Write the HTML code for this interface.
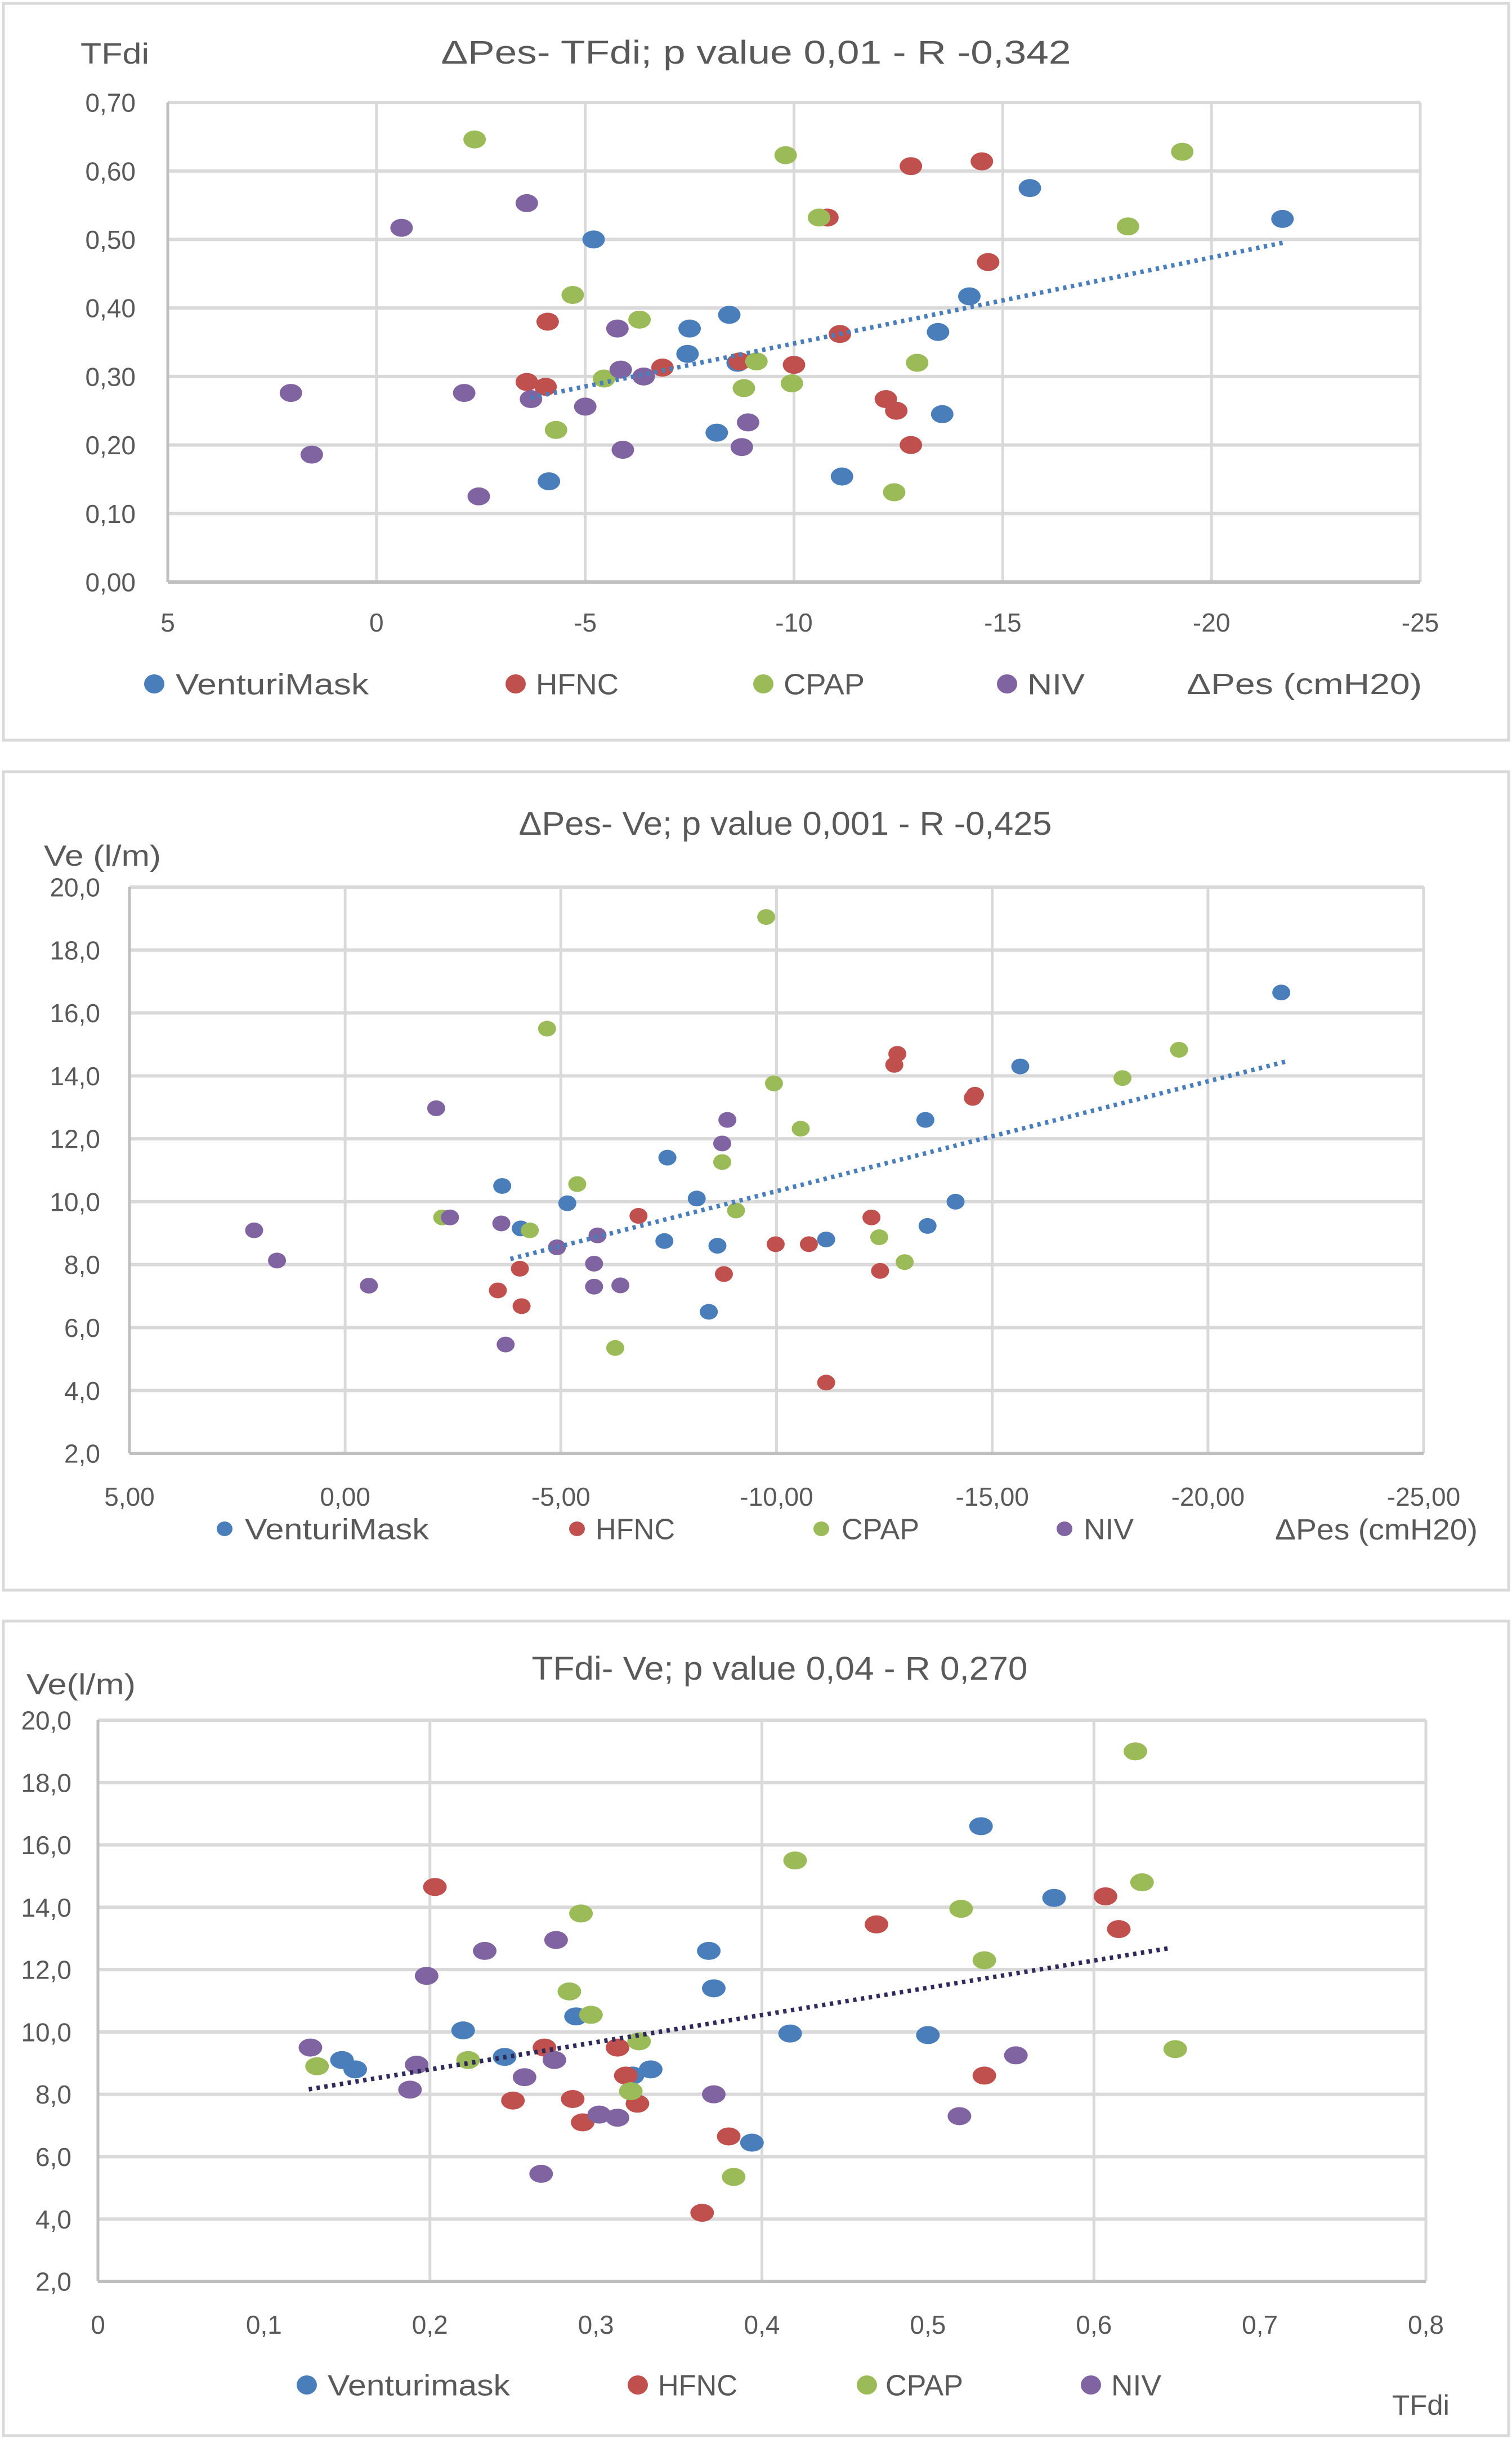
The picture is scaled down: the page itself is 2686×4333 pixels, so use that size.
<!DOCTYPE html>
<html>
<head>
<meta charset="utf-8">
<style>
html,body{margin:0;padding:0;background:#fff;}
svg{display:block;}
text{font-family:"Liberation Sans",sans-serif;fill:#595959;}
</style>
</head>
<body>
<svg id="root" xmlns="http://www.w3.org/2000/svg" width="2686" height="4333" viewBox="0 0 2686 4333"></svg>
<script>
// ---------- Chart 1: ΔPes vs TFdi ----------
const c1_venturi_x = [-21.7,-15.65,-5.2,-14.2,-8.45,-7.5,-7.45,-13.45,-8.65,-8.15,-13.55,-11.15,-4.13];
const c1_venturi_y = [0.53,0.575,0.50,0.417,0.39,0.37,0.333,0.365,0.32,0.218,0.245,0.154,0.147];
const c1_hfnc_x = [-12.8,-14.5,-14.65,-10.8,-4.1,-11.1,-3.6,-4.05,-6.85,-10.0,-8.7,-12.2,-12.45,-12.8];
const c1_hfnc_y = [0.607,0.614,0.467,0.532,0.38,0.362,0.292,0.285,0.313,0.317,0.322,0.267,0.25,0.20];
const c1_cpap_x = [-2.35,-9.8,-19.3,-10.6,-18.0,-4.7,-6.3,-9.1,-12.95,-5.45,-8.8,-9.95,-4.3,-12.4];
const c1_cpap_y = [0.646,0.623,0.628,0.532,0.519,0.419,0.383,0.322,0.32,0.297,0.283,0.29,0.222,0.131];
const c1_niv_x = [-0.6,-3.6,2.05,1.55,-2.1,-3.7,-5.77,-5.85,-6.4,-5.0,-5.9,-2.45,-8.9,-8.75];
const c1_niv_y = [0.517,0.553,0.276,0.186,0.276,0.267,0.37,0.31,0.30,0.256,0.193,0.125,0.233,0.197];
const c1_trend_x = [-3.69,-21.77];
const c1_trend_y = [0.269,0.496];
const c1_xticks = [5,0,-5,-10,-15,-20,-25];
const c1_xtickLabels = ["5","0","-5","-10","-15","-20","-25"];
const c1_xgrid = [5,0,-5,-10,-15,-20,-25];
const c1_yticks = [0,0.1,0.2,0.3,0.4,0.5,0.6,0.7];
const c1_ytickLabels = ["0,00","0,10","0,20","0,30","0,40","0,50","0,60","0,70"];

// ---------- Chart 2: ΔPes vs Ve ----------
const c2_venturi_x = [-21.7,-15.65,-13.45,-14.15,-13.5,-11.15,-8.63,-8.43,-8.15,-7.47,-7.4,-5.15,-4.07,-3.64];
const c2_venturi_y = [16.65,14.3,12.6,10.0,9.23,8.8,8.6,6.5,10.1,11.4,8.75,9.95,9.15,10.5];
const c2_hfnc_x = [-12.8,-12.73,-14.6,-14.55,-12.2,-12.4,-10.75,-9.98,-6.8,-8.78,-11.15,-4.05,-3.54,-4.09];
const c2_hfnc_y = [14.7,14.35,13.4,13.3,9.5,7.8,8.65,8.65,9.55,7.7,4.25,7.87,7.18,6.68];
const c2_cpap_x = [-9.76,-4.68,-19.33,-18.02,-9.94,-10.56,-8.74,-5.38,-9.06,-2.25,-4.28,-12.38,-12.97,-6.26];
const c2_cpap_y = [19.05,15.5,14.83,13.93,13.76,12.32,11.26,10.56,9.72,9.5,9.09,8.87,8.08,5.35];
const c2_niv_x = [-2.11,-2.43,2.11,1.58,-0.55,-3.62,-5.85,-4.91,-5.77,-5.77,-6.38,-3.72,-8.86,-8.74];
const c2_niv_y = [12.97,9.5,9.09,8.13,7.33,9.31,8.93,8.55,8.03,7.3,7.34,5.46,12.6,11.85];
const c2_trend_x = [-3.83,-21.79];
const c2_trend_y = [8.18,14.45];
const c2_xticks = [5,0,-5,-10,-15,-20,-25];
const c2_xtickLabels = ["5,00","0,00","-5,00","-10,00","-15,00","-20,00","-25,00"];
const c2_xgrid = [5,0,-5,-10,-15,-20,-25];
const c2_yticks = [2,4,6,8,10,12,14,16,18,20];
const c2_ytickLabels = ["2,0","4,0","6,0","8,0","10,0","12,0","14,0","16,0","18,0","20,0"];

// ---------- Chart 3: TFdi vs Ve ----------
const c3_venturi_x = [0.532,0.576,0.368,0.371,0.417,0.50,0.288,0.22,0.245,0.147,0.155,0.333,0.322,0.394];
const c3_venturi_y = [16.6,14.3,12.6,11.4,9.95,9.9,10.5,10.05,9.2,9.1,8.8,8.8,8.6,6.45];
const c3_hfnc_x = [0.203,0.469,0.607,0.615,0.269,0.313,0.318,0.534,0.325,0.286,0.25,0.292,0.38,0.364];
const c3_hfnc_y = [14.65,13.45,14.35,13.3,9.5,9.5,8.6,8.6,7.7,7.85,7.8,7.1,6.65,4.2];
const c3_cpap_x = [0.625,0.42,0.629,0.52,0.534,0.291,0.284,0.297,0.326,0.223,0.132,0.321,0.649,0.383];
const c3_cpap_y = [19.0,15.5,14.8,13.95,12.3,13.8,11.3,10.55,9.7,9.1,8.9,8.1,9.45,5.35];
const c3_niv_x = [0.276,0.233,0.198,0.128,0.192,0.275,0.257,0.188,0.371,0.302,0.313,0.553,0.519,0.267];
const c3_niv_y = [12.95,12.6,11.8,9.5,8.95,9.1,8.55,8.15,8.0,7.35,7.25,9.25,7.3,5.45];
const c3_trend_x = [0.127,0.647];
const c3_trend_y = [8.16,12.7];
const c3_xticks = [0,0.1,0.2,0.3,0.4,0.5,0.6,0.7,0.8];
const c3_xtickLabels = ["0","0,1","0,2","0,3","0,4","0,5","0,6","0,7","0,8"];
const c3_xgrid = [0,0.2,0.4,0.6,0.8];
const c3_yticks = [2,4,6,8,10,12,14,16,18,20];
const c3_ytickLabels = ["2,0","4,0","6,0","8,0","10,0","12,0","14,0","16,0","18,0","20,0"];

const NS = "http://www.w3.org/2000/svg";
const root = document.getElementById('root');
const COL = {venturi:"#4a7ebb", hfnc:"#c0504d", cpap:"#9bbb59", niv:"#8064a2"};

function mk(tag, attrs, parent){
  const e = document.createElementNS(NS, tag);
  for (const k in attrs) e.setAttribute(k, attrs[k]);
  (parent||root).appendChild(e);
  return e;
}
function linScale(d0,d1,r0,r1){ return v => r0 + (v-d0)/(d1-d0)*(r1-r0); }
function fit(t, len){ t.setAttribute('textLength', len); t.setAttribute('lengthAdjust', 'spacingAndGlyphs'); }

function drawChart(cfg){
  const g = mk('g', {});
  
  
  const box = mk('rect', {x:cfg.box[0], y:cfg.box[1], width:cfg.box[2], height:cfg.box[3], fill:'#fff', stroke:'#d9d9d9', 'stroke-width':5}, g);
  
  
  const sx = linScale(cfg.xd[0], cfg.xd[1], cfg.px[0], cfg.px[1]);
  const sy = linScale(cfg.yd[0], cfg.yd[1], cfg.py[0], cfg.py[1]);
  cfg.xgrid.forEach(t=>{
    const l = mk('line', {x1:sx(t), x2:sx(t), y1:cfg.py[1], y2:cfg.py[0], stroke:'#d9d9d9', 'stroke-width':5}, g);
    
    
  });
  cfg.xticks.forEach((t,i)=>{
    const tx = mk('text', {x:sx(t), y:cfg.xtickY, 'font-size':cfg.tickFont, 'text-anchor':'middle'}, g);
    tx.textContent = cfg.xtickLabels[i];
    
    
  });
  cfg.yticks.forEach((t,i)=>{
    const l = mk('line', {x1:cfg.px[0], x2:cfg.px[1], y1:sy(t), y2:sy(t), stroke:'#d9d9d9', 'stroke-width':6}, g);
    
    
    const tx = mk('text', {x:cfg.ytickX, y:sy(t)+cfg.tickFont*0.36, 'font-size':cfg.tickFont, 'text-anchor':'end'}, g);
    tx.textContent = cfg.ytickLabels[i];
    
    
  });
  const ax = mk('line', {x1:cfg.px[0], x2:cfg.px[1], y1:cfg.py[0], y2:cfg.py[0], stroke:'#bfbfbf', 'stroke-width':6}, g);
  
  
  const ay = mk('line', {x1:cfg.axisX, x2:cfg.axisX, y1:cfg.py[0], y2:cfg.py[1], stroke:'#bfbfbf', 'stroke-width':5}, g);
  
  
  cfg.series.forEach(s=>{
    const sg = mk('g', {}, g);
    
    
    s.x.forEach((xv,i)=>{
      const e = mk('ellipse', {cx:sx(xv), cy:sy(s.y[i]), rx:cfg.mrx, ry:cfg.mry, fill:COL[s.key]}, sg);
      
      
    });
  });
  const tl = mk('line', {x1:sx(cfg.trendX[0]), y1:sy(cfg.trendY[0]), x2:sx(cfg.trendX[1]), y2:sy(cfg.trendY[1]),
    stroke:cfg.trendColor, 'stroke-width':8, 'stroke-dasharray':'6 8'}, g);
  
  
  const ti = mk('text', {x:cfg.title[1], y:cfg.title[2], 'font-size':58, 'text-anchor':'middle'}, g);
  ti.textContent = cfg.title[0];
  fit(ti, cfg.title[3]);
  
  
  const yt = mk('text', {x:cfg.yTitle[1], y:cfg.yTitle[2], 'font-size':52}, g);
  yt.textContent = cfg.yTitle[0];
  fit(yt, cfg.yTitle[3]);
  
  
  const xt = mk('text', {x:cfg.xTitle[1], y:cfg.xTitle[2], 'font-size':cfg.xTitle[3]}, g);
  xt.textContent = cfg.xTitle[0];
  fit(xt, cfg.xTitle[4]);
  
  
  cfg.legend.forEach(le=>{
    const lg = mk('g', {}, g);
    
    
    mk('ellipse', {cx:le.mx, cy:cfg.legendY, rx:cfg.lrx, ry:cfg.lry, fill:COL[le.key]}, lg);
    const t = mk('text', {x:le.tx, y:cfg.legendY+cfg.legendFont*0.36, 'font-size':cfg.legendFont}, lg);
    t.textContent = le.label;
    fit(t, le.w);
  });
}

drawChart({
  name:'chart-dpes-tfdi', box:[6,6,2674,1309],
  xd:[5,-25], px:[298,2523], yd:[0,0.7], py:[1034,182], axisX:298,
  xticks:c1_xticks, xtickLabels:c1_xtickLabels, xgrid:c1_xgrid, yticks:c1_yticks, ytickLabels:c1_ytickLabels,
  tickFont:46, xtickY:1122, ytickX:241,
  series:[{key:'venturi',x:c1_venturi_x,y:c1_venturi_y},{key:'hfnc',x:c1_hfnc_x,y:c1_hfnc_y},
          {key:'cpap',x:c1_cpap_x,y:c1_cpap_y},{key:'niv',x:c1_niv_x,y:c1_niv_y}],
  mrx:20, mry:16, trendX:c1_trend_x, trendY:c1_trend_y, trendColor:'#4a7ebb',
  title:['ΔPes- TFdi; p value 0,01 - R -0,342',1343,113,1119],
  yTitle:['TFdi',143,113,122], xTitle:['ΔPes (cmH20)',2108,1233,52,418],
  legendY:1215, legendFont:52, lrx:18, lry:17,
  legend:[{key:'venturi',label:'VenturiMask',mx:274,tx:312,w:343},{key:'hfnc',label:'HFNC',mx:916,tx:952,w:147},
          {key:'cpap',label:'CPAP',mx:1356,tx:1392,w:144},{key:'niv',label:'NIV',mx:1789,tx:1825,w:102}]
});

drawChart({
  name:'chart-dpes-ve', box:[6,1371,2674,1454],
  xd:[5,-25], px:[230,2529], yd:[2,20], py:[2582,1576], axisX:230,
  xticks:c2_xticks, xtickLabels:c2_xtickLabels, xgrid:c2_xgrid, yticks:c2_yticks, ytickLabels:c2_ytickLabels,
  tickFont:46, xtickY:2675, ytickX:178,
  series:[{key:'venturi',x:c2_venturi_x,y:c2_venturi_y},{key:'hfnc',x:c2_hfnc_x,y:c2_hfnc_y},
          {key:'cpap',x:c2_cpap_x,y:c2_cpap_y},{key:'niv',x:c2_niv_x,y:c2_niv_y}],
  mrx:16, mry:14, trendX:c2_trend_x, trendY:c2_trend_y, trendColor:'#4a7ebb',
  title:['ΔPes- Ve; p value 0,001 - R -0,425',1395,1483,947],
  yTitle:['Ve (l/m)',78,1538,208], xTitle:['ΔPes (cmH20)',2265,2735,52,360],
  legendY:2716, legendFont:52, lrx:14, lry:13,
  legend:[{key:'venturi',label:'VenturiMask',mx:399,tx:435,w:327},{key:'hfnc',label:'HFNC',mx:1025,tx:1058,w:141},
          {key:'cpap',label:'CPAP',mx:1459,tx:1495,w:138},{key:'niv',label:'NIV',mx:1891,tx:1925,w:89}]
});

drawChart({
  name:'chart-tfdi-ve', box:[6,2880,2674,1447],
  xd:[0,0.8], px:[174,2533], yd:[2,20], py:[4053,3056], axisX:174,
  xticks:c3_xticks, xtickLabels:c3_xtickLabels, xgrid:c3_xgrid, yticks:c3_yticks, ytickLabels:c3_ytickLabels,
  tickFont:46, xtickY:4146, ytickX:127,
  series:[{key:'venturi',x:c3_venturi_x,y:c3_venturi_y},{key:'hfnc',x:c3_hfnc_x,y:c3_hfnc_y},
          {key:'cpap',x:c3_cpap_x,y:c3_cpap_y},{key:'niv',x:c3_niv_x,y:c3_niv_y}],
  mrx:21, mry:16, trendX:c3_trend_x, trendY:c3_trend_y, trendColor:'#2f2a5a',
  title:['TFdi- Ve; p value 0,04 - R 0,270',1385,2984,881],
  yTitle:['Ve(l/m)',47,3010,194], xTitle:['TFdi',2473,4290,50,102],
  legendY:4237, legendFont:52, lrx:18, lry:17,
  legend:[{key:'venturi',label:'Venturimask',mx:545,tx:582,w:324},{key:'hfnc',label:'HFNC',mx:1133,tx:1169,w:141},
          {key:'cpap',label:'CPAP',mx:1540,tx:1573,w:138},{key:'niv',label:'NIV',mx:1938,tx:1974,w:89}]
});
</script>
</body>
</html>
